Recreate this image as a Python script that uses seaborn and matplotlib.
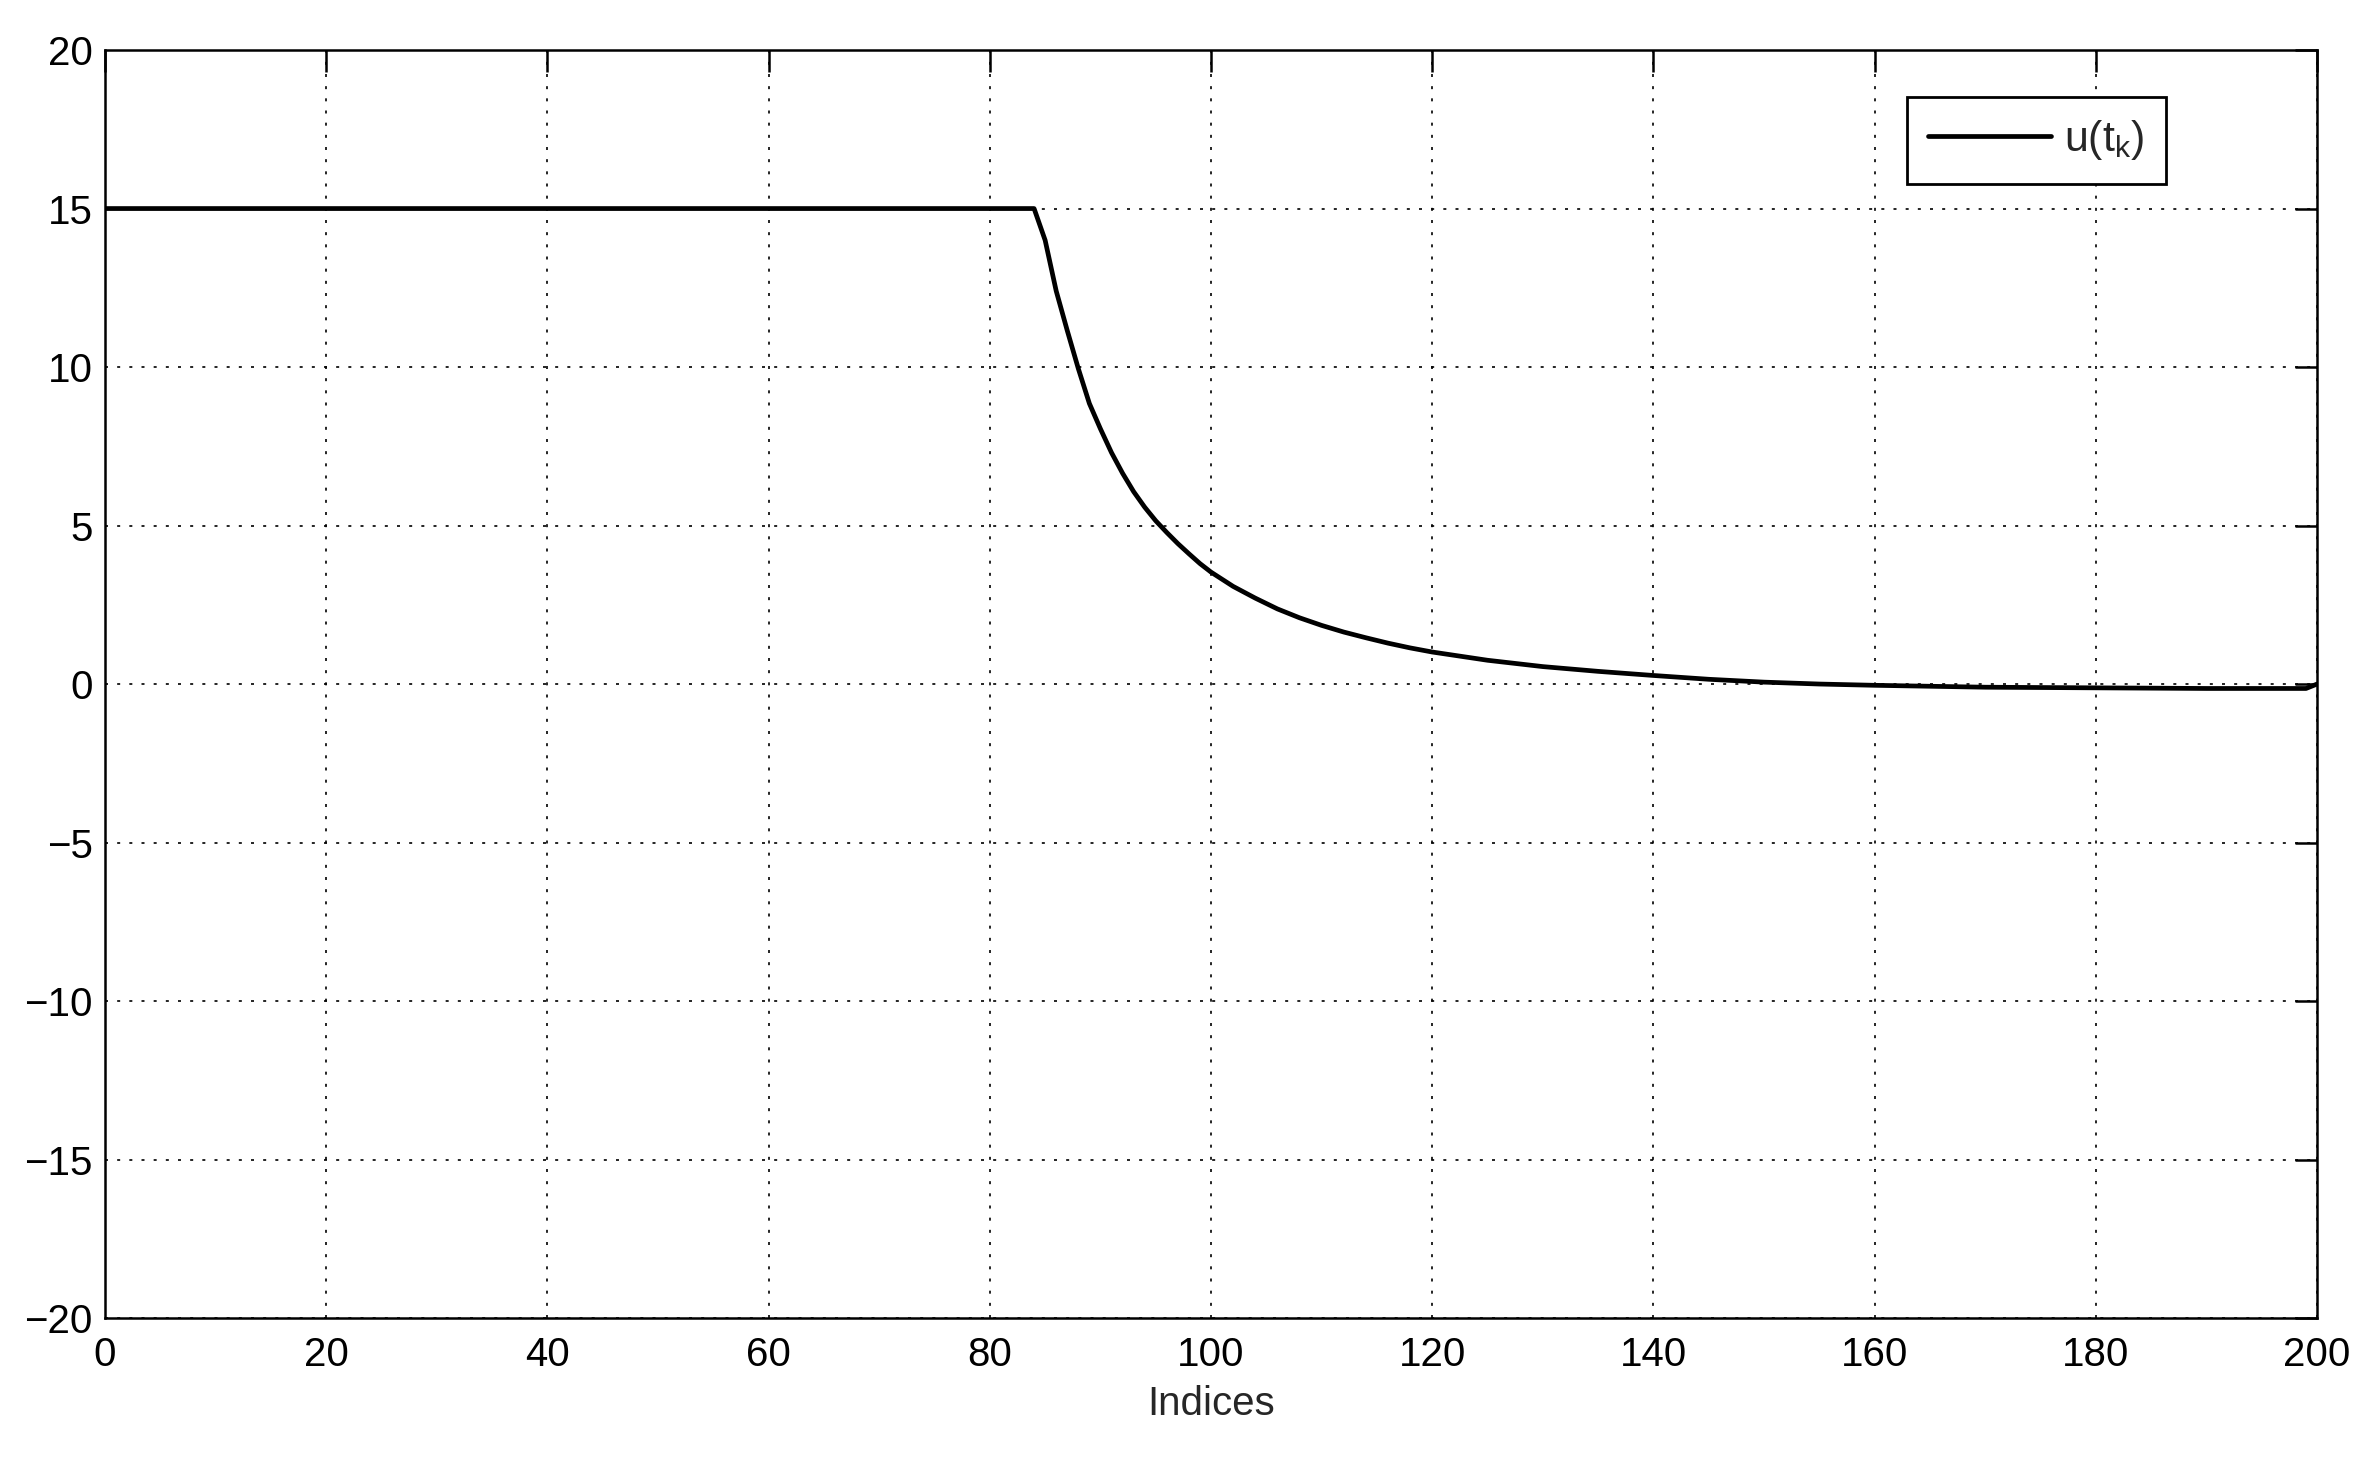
import numpy as np
import pandas as pd
import matplotlib
matplotlib.use("Agg")
import matplotlib.pyplot as plt
import seaborn as sns

# Valores
indices = [0, 84, 85, 86, 87, 88, 89, 90, 91, 92, 93, 94, 95, 96, 97, 98, 99, 100,
           102, 104, 106, 108, 110, 112, 114, 116, 118, 120,
           125, 130, 135, 140, 145, 150, 155, 160, 165, 170, 175, 180, 185, 190,
           195, 199, 200]
u_values = [15.0, 15.0, 14.0, 12.4, 11.15, 9.95, 8.85, 8.05, 7.3, 6.65, 6.07, 5.58,
            5.15, 4.78, 4.43, 4.11, 3.80, 3.53,
            3.08, 2.71, 2.37, 2.09, 1.85, 1.64, 1.46, 1.29, 1.14, 1.01,
            0.75, 0.55, 0.40, 0.27, 0.15, 0.06, 0.00, -0.04, -0.07, -0.10, -0.11,
            -0.12, -0.13, -0.14, -0.14, -0.14, 0.0]
x_ticks = list(range(0, 201, 20))
y_ticks = list(range(-20, 21, 5))

sns.set_theme(style="white")
plt.rcParams["font.family"] = ["Liberation Sans", "DejaVu Sans"]
plt.rcParams["mathtext.fontset"] = "custom"
plt.rcParams["mathtext.rm"] = "Liberation Sans"

df = pd.DataFrame({"Indices": indices, "u": u_values})

fig = plt.figure(figsize=(11.88, 7.36), dpi=200)
ax = fig.add_axes([0.0442, 0.1046, 0.931, 0.8614])

sns.lineplot(data=df, x="Indices", y="u", ax=ax, color="black", linewidth=1.7,
             estimator=None, label=r"u(t$_\mathregular{k}$)")

ax.set_xlim(0, 200)
ax.set_ylim(-20, 20)
ax.set_xticks(x_ticks)
ax.set_yticks(y_ticks)
ax.set_xlabel("Indices", fontsize=14.5, labelpad=4)
ax.set_ylabel("")
ax.tick_params(axis="both", direction="in", length=7.8, width=0.9, colors="black",
               labelsize=14.5, top=True, right=True)
ax.tick_params(axis="x", pad=6.5)
ax.tick_params(axis="y", pad=4.5)
for sp in ax.spines.values():
    sp.set_color("black")
    sp.set_linewidth(0.9)

ax.grid(True, color="black", linestyle=(0, (1.8, 5.5)), linewidth=0.6)

leg = ax.legend(loc="upper right", bbox_to_anchor=(0.9316, 0.963), borderaxespad=0,
                fancybox=False, framealpha=1, edgecolor="black", fontsize=15.5,
                handlelength=2.85, borderpad=0.5, handletextpad=0.3)
leg.get_frame().set_linewidth(1.0)

plt.savefig("out.png", dpi=200)
